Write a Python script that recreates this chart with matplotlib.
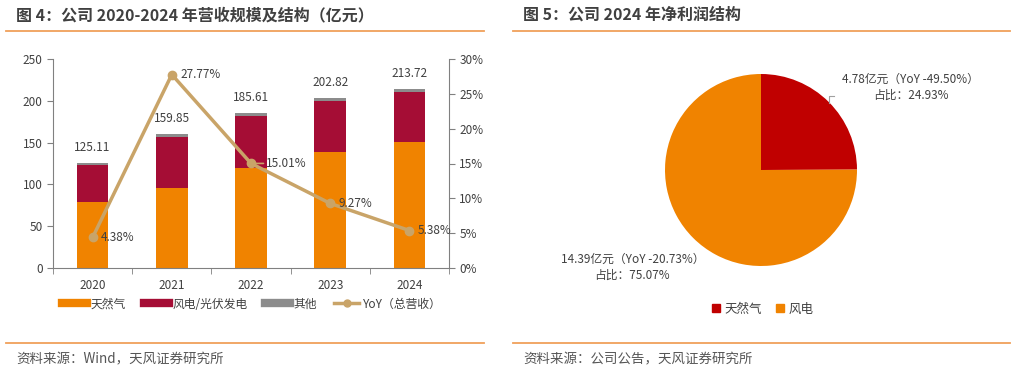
import numpy as np
import matplotlib
matplotlib.use("Agg")
from matplotlib import pyplot as plt
from matplotlib.lines import Line2D
from matplotlib.ticker import MultipleLocator, FuncFormatter

plt.rcParams['font.family'] = ['Noto Sans CJK SC', 'DejaVu Sans']

years = ['2020', '2021', '2022', '2023', '2024']
gas = [78.5, 95.7, 119.5, 138.2, 150.5]
wind = [44.2, 61.3, 62.5, 61.8, 59.5]
other = [2.41, 2.85, 3.61, 2.82, 3.72]
total = [125.11, 159.85, 185.61, 202.82, 213.72]
yoy = [4.38, 27.77, 15.01, 9.27, 5.38]

pie_names = ['天然气', '风电']
pie_vals = [4.78, 14.39]
pie_yoy = [-49.50, -20.73]
pie_share = [24.93, 75.07]

c_gas = '#F08300'
c_wind = '#A50D35'
c_other = '#8C8C8C'
c_yoy = '#C9A468'
c_pie_red = '#C00000'
c_text = '#404040'
c_rule = '#F0A05A'

W, H = 1016, 373
fig = plt.figure(figsize=(W / 100, H / 100), dpi=100)


def px(x0, y0, x1, y1):
    return [x0 / W, 1 - y1 / H, (x1 - x0) / W, (y1 - y0) / H]


# titles, rules, sources
fig.text(16 / W, 1 - 15 / H, '图 4：公司 2020-2024 年营收规模及结构（亿元）', fontsize=11.5,
         fontweight='bold', color=c_text, va='center', ha='left')
fig.text(523 / W, 1 - 15 / H, '图 5：公司 2024 年净利润结构', fontsize=11.5,
         fontweight='bold', color=c_text, va='center', ha='left')
for (a, b) in [(6, 484), (513, 1010)]:
    for y in (30.5, 342.5):
        fig.add_artist(Line2D([a / W, b / W], [1 - y / H, 1 - y / H], color=c_rule, lw=1.3))
fig.text(16 / W, 1 - 359 / H, '资料来源：Wind，天风证券研究所', fontsize=9.7, color='#555555',
         va='center', ha='left')
fig.text(523 / W, 1 - 359 / H, '资料来源：公司公告，天风证券研究所', fontsize=9.7, color='#555555',
         va='center', ha='left')

# left chart
ax = fig.add_axes(px(53, 59, 449, 268))
x = np.arange(len(years))
bw = 0.4
ax.bar(x, gas, bw, color=c_gas, label='天然气')
ax.bar(x, wind, bw, bottom=gas, color=c_wind, label='风电/光伏发电')
ax.bar(x, other, bw, bottom=np.array(gas) + np.array(wind), color=c_other, label='其他')
for i, t in enumerate(total):
    ax.text(x[i], t + 11, f'{t:.2f}', ha='center', va='bottom', fontsize=8.5, color=c_text)
ax.set_xlim(-0.5, 4.5)
ax.set_ylim(0, 250)
ax.yaxis.set_major_locator(MultipleLocator(50))
ax.set_xticks(x)
ax.set_xticklabels(years)
ax.set_xticks(np.arange(-0.5, 5, 1), minor=True)
ax.tick_params(axis='x', which='major', length=0, pad=8, labelsize=8.5, labelcolor=c_text)
ax.tick_params(axis='x', which='minor', length=4, color='#808080')
ax.tick_params(axis='y', length=4, color='#808080', labelsize=8.5, labelcolor=c_text)
for s in ('top', 'right'):
    ax.spines[s].set_visible(False)
for s in ('left', 'bottom'):
    ax.spines[s].set_color('#808080')

ax2 = ax.twinx()
ax2.plot(x, yoy, color=c_yoy, lw=2.5, marker='o', ms=6, label='YoY（总营收）')
ax2.set_ylim(0, 30)
ax2.yaxis.set_major_locator(MultipleLocator(5))
ax2.yaxis.set_major_formatter(FuncFormatter(lambda v, p: f'{v:.0f}%'))
ax2.tick_params(axis='y', length=4, color='#808080', labelsize=8.5, labelcolor=c_text)
for s in ('top', 'left', 'bottom'):
    ax2.spines[s].set_visible(False)
ax2.spines['right'].set_color('#808080')
for i, v in enumerate(yoy):
    if i == 2:
        # this label sits a bit further out with a short leader
        ax2.annotate(f'{v:.2f}%', (x[i], v), xytext=(11, 0), textcoords='offset points',
                     ha='left', va='center', fontsize=8.5, color=c_text,
                     arrowprops=dict(arrowstyle='-', color=c_yoy, lw=1.2, shrinkA=0, shrinkB=3))
    else:
        ax2.annotate(f'{v:.2f}%', (x[i], v), xytext=(6, 0), textcoords='offset points',
                     ha='left', va='center', fontsize=8.5, color=c_text)

handles = [Line2D([], [], color=c_gas, lw=6),
           Line2D([], [], color=c_wind, lw=6),
           Line2D([], [], color=c_other, lw=6),
           Line2D([], [], color=c_yoy, lw=2.5, marker='o', ms=5)]
labels = ['天然气', '风电/光伏发电', '其他', 'YoY（总营收）']
fig.legend(handles, labels, loc='center', bbox_to_anchor=(252 / W, 1 - 304 / H), ncol=4,
           frameon=False, fontsize=8.5, handlelength=2.1, columnspacing=1.5, handletextpad=0.3,
           labelcolor=c_text)

# right chart
pax = fig.add_axes(px(665, 74, 857, 266))
wedges, _ = pax.pie(pie_vals, colors=[c_pie_red, c_gas], startangle=90, counterclock=False,
                    radius=1)
pax.set_xlim(-1, 1)
pax.set_ylim(-1, 1)
pax.set_aspect('equal')
pax.text(1.56, 0.86, f'{pie_vals[0]:.2f}亿元（YoY {pie_yoy[0]:.2f}%）\n占比：{pie_share[0]:.2f}%',
         ha='center', va='center', fontsize=8.5, color=c_text, linespacing=1.3)
pax.text(-1.34, -1.01, f'{pie_vals[1]:.2f}亿元（YoY {pie_yoy[1]:.2f}%）\n占比：{pie_share[1]:.2f}%',
         ha='center', va='center', fontsize=8.5, color=c_text, linespacing=1.3)
pax.plot([0.708, 0.708, 0.76], [0.70, 0.77, 0.77], color='#A0A0A0', lw=0.8, clip_on=False)

ph = [Line2D([], [], color=c, marker='s', ls='', ms=6) for c in (c_pie_red, c_gas)]
fig.legend(ph, pie_names, loc='center', bbox_to_anchor=(762 / W, 1 - 309 / H), ncol=2,
           frameon=False, fontsize=9, handlelength=0.8, handletextpad=0.3, columnspacing=1.0,
           labelcolor=c_text)

fig.savefig('out.png', dpi=100)
